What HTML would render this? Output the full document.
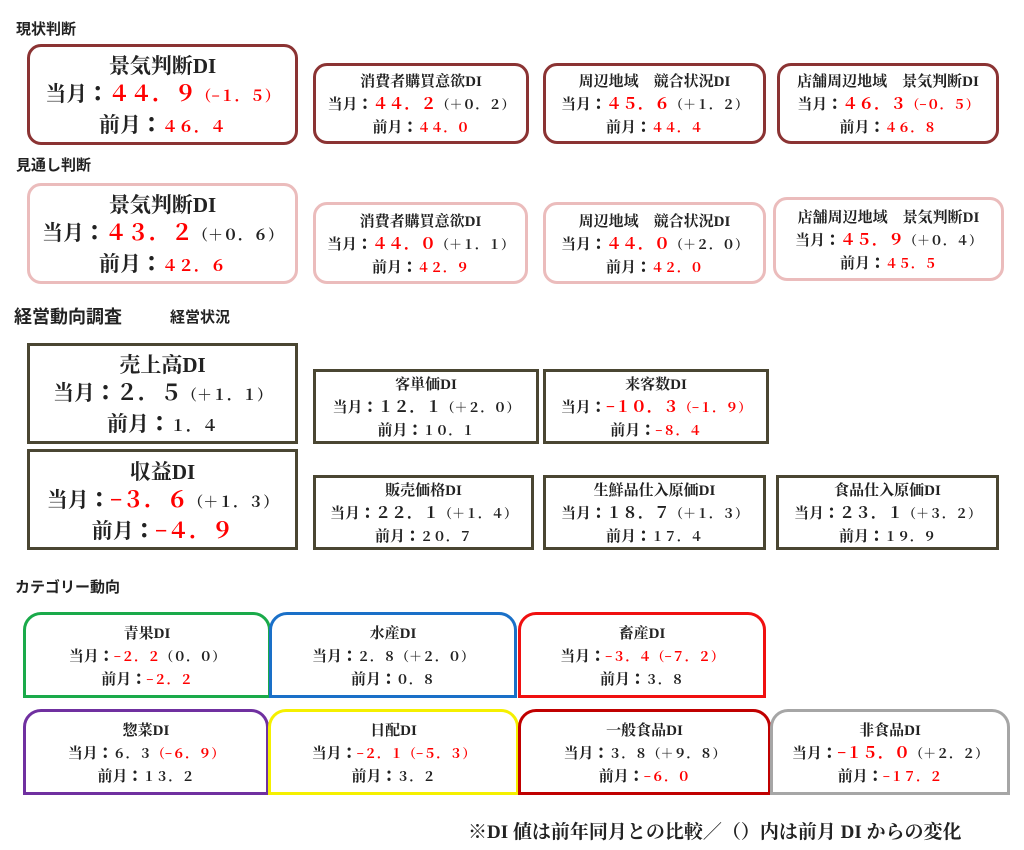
<!DOCTYPE html>
<html><head><meta charset="utf-8">
<style>
*{margin:0;padding:0;box-sizing:border-box}
body{width:1024px;height:850px;background:#fff;position:relative;overflow:hidden;
font-family:"Liberation Serif","Noto Serif CJK SC",serif;font-weight:bold;color:#222}
.h{position:absolute;font-family:"Liberation Sans","Noto Sans CJK JP",sans-serif;font-weight:bold;color:#222}
.b{position:absolute;display:flex;flex-direction:column;justify-content:center;align-items:center;background:#fff;white-space:nowrap;text-align:center;padding-top:4px}
.c{font-family:"Noto Sans CJK JP",sans-serif;font-weight:900}
.s{font-size:15px;line-height:21px}
.s .v{font-size:16px}.s .p{font-size:13px}.s .q{font-size:13px}
.g{font-size:21px;line-height:27px}
.g .v{font-size:22px}.g .p{font-size:15px}.g .q{font-size:16px}
.r{color:#f00}
.c1{border:3px solid #8b3333;border-radius:14px}
.c2{border:3px solid #ebbcbc;border-radius:14px}
.c3{border:3px solid #4a4632}
.k{border:3px solid;border-radius:18px 18px 0 0}
</style></head><body>
<div class="h" style="left:16px;top:18px;font-size:15px">現状判断</div>
<div class="h" style="left:16px;top:154px;font-size:15px">見通し判断</div>
<div class="h" style="left:14px;top:303px;font-size:18px">経営動向調査</div>
<div class="h" style="left:170px;top:306px;font-size:15px">経営状況</div>
<div class="h" style="left:15px;top:576px;font-size:15px">カテゴリー動向</div>

<div class="b g c1" style="left:27px;top:44px;width:271px;height:101px"><div>景気判断DI</div><div>当月<span class="c">：</span><span class="r v">４４．９</span><span class="r p">（−１．５）</span></div><div>前月<span class="c">：</span><span class="r q">４６．４</span></div></div>
<div class="b s c1" style="left:313px;top:63px;width:216px;height:81px"><div>消費者購買意欲DI</div><div>当月<span class="c">：</span><span class="r v">４４．２</span><span class="p">（＋０．２）</span></div><div>前月<span class="c">：</span><span class="r q">４４．０</span></div></div>
<div class="b s c1" style="left:543px;top:63px;width:223px;height:81px"><div>周辺地域　競合状況DI</div><div>当月<span class="c">：</span><span class="r v">４５．６</span><span class="p">（＋１．２）</span></div><div>前月<span class="c">：</span><span class="r q">４４．４</span></div></div>
<div class="b s c1" style="left:777px;top:63px;width:222px;height:81px"><div>店舗周辺地域　景気判断DI</div><div>当月<span class="c">：</span><span class="r v">４６．３</span><span class="r p">（−０．５）</span></div><div>前月<span class="c">：</span><span class="r q">４６．８</span></div></div>

<div class="b g c2" style="left:27px;top:183px;width:271px;height:101px"><div>景気判断DI</div><div>当月<span class="c">：</span><span class="r v">４３．２</span><span class="p">（＋０．６）</span></div><div>前月<span class="c">：</span><span class="r q">４２．６</span></div></div>
<div class="b s c2" style="left:313px;top:202px;width:215px;height:82px"><div>消費者購買意欲DI</div><div>当月<span class="c">：</span><span class="r v">４４．０</span><span class="p">（＋１．１）</span></div><div>前月<span class="c">：</span><span class="r q">４２．９</span></div></div>
<div class="b s c2" style="left:543px;top:202px;width:223px;height:82px"><div>周辺地域　競合状況DI</div><div>当月<span class="c">：</span><span class="r v">４４．０</span><span class="p">（＋２．０）</span></div><div>前月<span class="c">：</span><span class="r q">４２．０</span></div></div>
<div class="b s c2" style="left:773px;top:197px;width:231px;height:84px"><div>店舗周辺地域　景気判断DI</div><div>当月<span class="c">：</span><span class="r v">４５．９</span><span class="p">（＋０．４）</span></div><div>前月<span class="c">：</span><span class="r q">４５．５</span></div></div>

<div class="b g c3" style="left:27px;top:343px;width:271px;height:101px"><div>売上高DI</div><div>当月<span class="c">：</span><span class="v">２．５</span><span class="p">（＋１．１）</span></div><div>前月<span class="c">：</span><span class="q">１．４</span></div></div>
<div class="b g c3" style="left:27px;top:449px;width:271px;height:101px"><div>収益DI</div><div>当月<span class="c">：</span><span class="r v">−３．６</span><span class="p">（＋１．３）</span></div><div>前月<span class="c">：</span><span class="r v">−４．９</span></div></div>
<div class="b s c3" style="left:313px;top:369px;width:226px;height:75px"><div>客単価DI</div><div>当月<span class="c">：</span><span class="v">１２．１</span><span class="p">（＋２．０）</span></div><div>前月<span class="c">：</span><span class="q">１０．１</span></div></div>
<div class="b s c3" style="left:543px;top:369px;width:226px;height:75px"><div>来客数DI</div><div>当月<span class="c">：</span><span class="r v">−１０．３</span><span class="r p">（−１．９）</span></div><div>前月<span class="c">：</span><span class="r q">−８．４</span></div></div>
<div class="b s c3" style="left:313px;top:475px;width:221px;height:75px"><div>販売価格DI</div><div>当月<span class="c">：</span><span class="v">２２．１</span><span class="p">（＋１．４）</span></div><div>前月<span class="c">：</span><span class="q">２０．７</span></div></div>
<div class="b s c3" style="left:543px;top:475px;width:223px;height:75px"><div>生鮮品仕入原価DI</div><div>当月<span class="c">：</span><span class="v">１８．７</span><span class="p">（＋１．３）</span></div><div>前月<span class="c">：</span><span class="q">１７．４</span></div></div>
<div class="b s c3" style="left:776px;top:475px;width:223px;height:75px"><div>食品仕入原価DI</div><div>当月<span class="c">：</span><span class="v">２３．１</span><span class="p">（＋３．２）</span></div><div>前月<span class="c">：</span><span class="q">１９．９</span></div></div>

<div class="b s k" style="left:23px;top:612px;width:248px;height:86px;border-color:#1aaa4a"><div>青果DI</div><div>当月<span class="c">：</span><span class="r q">−２．２</span><span class="p">（０．０）</span></div><div>前月<span class="c">：</span><span class="r q">−２．２</span></div></div>
<div class="b s k" style="left:269px;top:612px;width:248px;height:86px;border-color:#1a70c8"><div>水産DI</div><div>当月<span class="c">：</span><span class="q">２．８</span><span class="p">（＋２．０）</span></div><div>前月<span class="c">：</span><span class="q">０．８</span></div></div>
<div class="b s k" style="left:518px;top:612px;width:248px;height:86px;border-color:#f01010"><div>畜産DI</div><div>当月<span class="c">：</span><span class="r q">−３．４</span><span class="r p">（−７．２）</span></div><div>前月<span class="c">：</span><span class="q">３．８</span></div></div>
<div class="b s k" style="left:23px;top:709px;width:246px;height:86px;border-color:#7030a0"><div>惣菜DI</div><div>当月<span class="c">：</span><span class="q">６．３</span><span class="r p">（−６．９）</span></div><div>前月<span class="c">：</span><span class="q">１３．２</span></div></div>
<div class="b s k" style="left:268px;top:709px;width:251px;height:86px;border-color:#f5f000"><div>日配DI</div><div>当月<span class="c">：</span><span class="r q">−２．１</span><span class="r p">（−５．３）</span></div><div>前月<span class="c">：</span><span class="q">３．２</span></div></div>
<div class="b s k" style="left:518px;top:709px;width:253px;height:86px;border-color:#c00000"><div>一般食品DI</div><div>当月<span class="c">：</span><span class="q">３．８</span><span class="p">（＋９．８）</span></div><div>前月<span class="c">：</span><span class="r q">−６．０</span></div></div>
<div class="b s k" style="left:770px;top:709px;width:240px;height:86px;border-color:#a6a6a6"><div>非食品DI</div><div>当月<span class="c">：</span><span class="r v">−１５．０</span><span class="p">（＋２．２）</span></div><div>前月<span class="c">：</span><span class="r q">−１７．２</span></div></div>

<div class="h" style="left:468px;top:817px;font-size:19px;font-family:'Liberation Serif','Noto Serif CJK SC',serif">※DI 値は前年同月との比較／（）内は前月 DI からの変化</div>
</body></html>
